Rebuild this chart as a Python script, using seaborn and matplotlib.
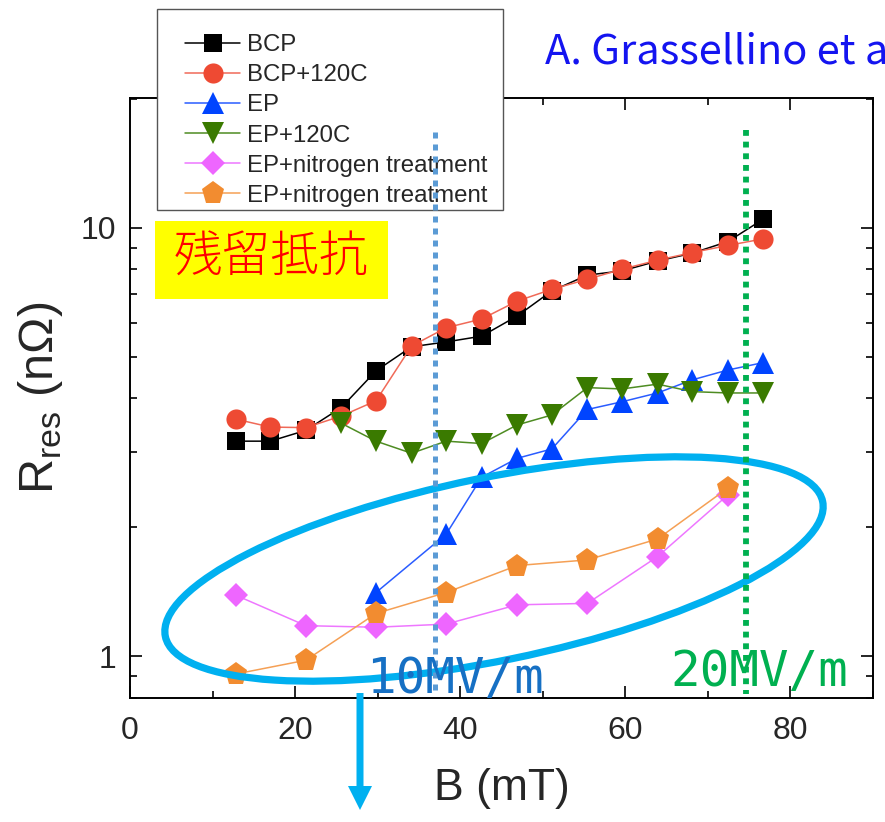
import matplotlib
matplotlib.use("Agg")
import matplotlib.pyplot as plt
import seaborn as sns
from matplotlib.patches import Ellipse, Rectangle, FancyArrow
from matplotlib.ticker import FixedLocator, FixedFormatter, MultipleLocator, NullFormatter

# Surface magnetic field B (mT) and residual resistance R_res (nΩ)
b_bcp = [12.8, 17.0, 21.3, 25.6, 29.8, 34.1, 38.3, 42.6, 46.9, 51.1, 55.4, 59.6, 63.9, 68.1, 72.4, 76.7]
r_bcp = [3.18, 3.18, 3.37, 3.81, 4.64, 5.28, 5.42, 5.59, 6.23, 7.13, 7.76, 7.94, 8.37, 8.73, 9.29, 10.48]
b_bcp120 = [12.8, 17.0, 21.3, 25.6, 29.8, 34.1, 38.3, 42.6, 46.9, 51.1, 55.4, 59.6, 63.9, 68.1, 72.4, 76.7]
r_bcp120 = [3.58, 3.43, 3.42, 3.64, 3.95, 5.30, 5.85, 6.13, 6.75, 7.19, 7.59, 8.01, 8.41, 8.76, 9.10, 9.43]
b_ep = [29.8, 38.3, 42.6, 46.9, 51.1, 55.4, 59.6, 63.9, 68.1, 72.4, 76.7]
r_ep = [1.41, 1.93, 2.62, 2.90, 3.05, 3.77, 3.93, 4.12, 4.42, 4.66, 4.85]
b_ep120 = [25.6, 29.8, 34.1, 38.3, 42.6, 46.9, 51.1, 55.4, 59.6, 63.9, 68.1, 72.4, 76.7]
r_ep120 = [3.50, 3.18, 2.98, 3.18, 3.14, 3.47, 3.66, 4.24, 4.21, 4.32, 4.15, 4.12, 4.12]
b_epn = [12.8, 21.3, 29.8, 38.3, 46.9, 55.4, 63.9, 72.4]
r_epn_a = [1.39, 1.18, 1.17, 1.19, 1.32, 1.33, 1.71, 2.38]
r_epn_b = [0.91, 0.98, 1.26, 1.41, 1.63, 1.68, 1.88, 2.47]

series_labels = ["BCP", "BCP+120C", "EP", "EP+120C",
                 "EP+nitrogen treatment", "EP+nitrogen treatment"]
series_x = [b_bcp, b_bcp120, b_ep, b_ep120, b_epn, b_epn]
series_y = [r_bcp, r_bcp120, r_ep, r_ep120, r_epn_a, r_epn_b]

x_ticks = [0, 20, 40, 60, 80]
y_ticks = [1, 10]
y_tick_labels = ["1", "10"]
field_marks = [37.0, 74.6]          # B at 10 MV/m and 20 MV/m
field_labels = ["10MV/m", "20MV/m"]

# marker, marker size, marker colour, line colour
styles = [
    ("s", 13.0, "#000000", "#000000"),
    ("o", 14.5, "#EE4A33", "#F06A58"),
    ("^", 16.0, "#0044FF", "#2A5CFF"),
    ("v", 16.0, "#3A7A00", "#4E8C22"),
    ("D", 12.0, "#EE66FF", "#EE77FF"),
    ("p", 17.0, "#F28C30", "#F5A055"),
]

sns.set_theme(style="ticks")
plt.rcParams["font.family"] = ["Liberation Sans", "DejaVu Sans"]
plt.rcParams["mathtext.fontset"] = "custom"
plt.rcParams["mathtext.rm"] = "Liberation Sans"

W, H = 885, 822
fig = plt.figure(figsize=(W / 100, H / 100), dpi=100)
fig.patch.set_facecolor("white")
ax = fig.add_axes([130 / W, 124 / H, 743 / W, 600 / H])
ax.set_facecolor("white")

for xs, ys, lab, (mk, ms, mc, lc) in zip(series_x, series_y, series_labels, styles):
    sns.lineplot(x=xs, y=ys, ax=ax, color=lc, marker=mk, markersize=ms,
                 linewidth=1.1, markeredgewidth=0, label=lab, sort=False,
                 estimator=None)
    ln = ax.lines[-1]
    ln.set_markerfacecolor(mc)
    ln.set_markeredgecolor(mc)
    ln.set_markeredgewidth(0)

ax.set_yscale("log")
ax.set_xlim(0, 90)
ax.set_ylim(0.8, 20.1)
ax.xaxis.set_major_locator(FixedLocator(x_ticks))
ax.xaxis.set_minor_locator(MultipleLocator(10))
ax.yaxis.set_major_locator(FixedLocator(y_ticks))
ax.yaxis.set_major_formatter(FixedFormatter(y_tick_labels))
ax.yaxis.set_minor_formatter(NullFormatter())

ax.tick_params(which="both", direction="in", top=True, right=True,
               color="black", width=1.2)
ax.tick_params(which="major", length=8.5)
ax.tick_params(which="minor", length=5)
ax.tick_params(axis="x", which="major", labelsize=23, pad=13)
ax.tick_params(axis="y", which="major", labelsize=23, pad=10)
for sp in ax.spines.values():
    sp.set_linewidth(1.4)
    sp.set_color("black")

ax.set_xlabel("B (mT)", fontsize=32, labelpad=16)
ax.set_ylabel(r"R$_\mathregular{res}$ (nΩ)", fontsize=35, labelpad=11)

# legend with its own frame
handles = list(ax.lines[:6])
leg = ax.legend(handles, series_labels, loc="upper left",
                bbox_to_anchor=(185 / W, 1 - 34 / H), bbox_transform=fig.transFigure,
                frameon=False, fontsize=17.3, handlelength=2.3, handletextpad=0.3,
                labelspacing=0.34, borderpad=0, borderaxespad=0)
frame = Rectangle((157 / W, 1 - 210 / H), (503 - 157) / W, (210 - 9) / H,
                  transform=fig.transFigure, facecolor="white",
                  edgecolor="#555555", linewidth=1.0, zorder=4.9, clip_on=False)
ax.add_artist(frame)

# annotation layer in pixel coordinates
ov = fig.add_axes([0, 0, 1, 1], zorder=3)
ov.set_xlim(0, W)
ov.set_ylim(H, 0)
ov.axis("off")
ov.patch.set_alpha(0)

def px_x(b):
    return 130 + b * 743 / 90

ov.plot([px_x(field_marks[0])] * 2, [132, 694], color="#5B9BD5", lw=3.6,
        linestyle=(0, (1.2, 1.2)))
ov.plot([px_x(field_marks[1])] * 2, [130, 694], color="#00B050", lw=4.2,
        linestyle=(0, (1.0, 1.0)))

ov.add_patch(Ellipse((494, 569), 671, 183, angle=-11.6, fill=False,
                     edgecolor="#00B0F0", linewidth=5.2))
ov.add_patch(FancyArrow(360, 693, 0, 117, width=7, head_width=24, head_length=24,
                        length_includes_head=True, color="#00B0F0", lw=0))

ov.text(366, 693, field_labels[0], color="#1670C4", fontsize=35.5,
        family="DejaVu Sans Mono", ha="left", va="baseline")
ov.text(670, 686, field_labels[1], color="#00B050", fontsize=35.5,
        family="DejaVu Sans Mono", ha="left", va="baseline")

ov.add_patch(Rectangle((155, 221), 233, 78, facecolor="#FFFF00", edgecolor="none"))
ov.text(271, 258, "残留抵抗", color="#FF0000", fontsize=35, fontweight="light",
        family=["Noto Sans CJK JP", "DejaVu Sans"], ha="center", va="center")

ov.text(545, 63, "A. Grassellino et al.", color="#1414F0", fontsize=30,
        family=["Noto Sans CJK JP", "DejaVu Sans"], ha="left", va="baseline")

fig.savefig("out.png", dpi=100)
